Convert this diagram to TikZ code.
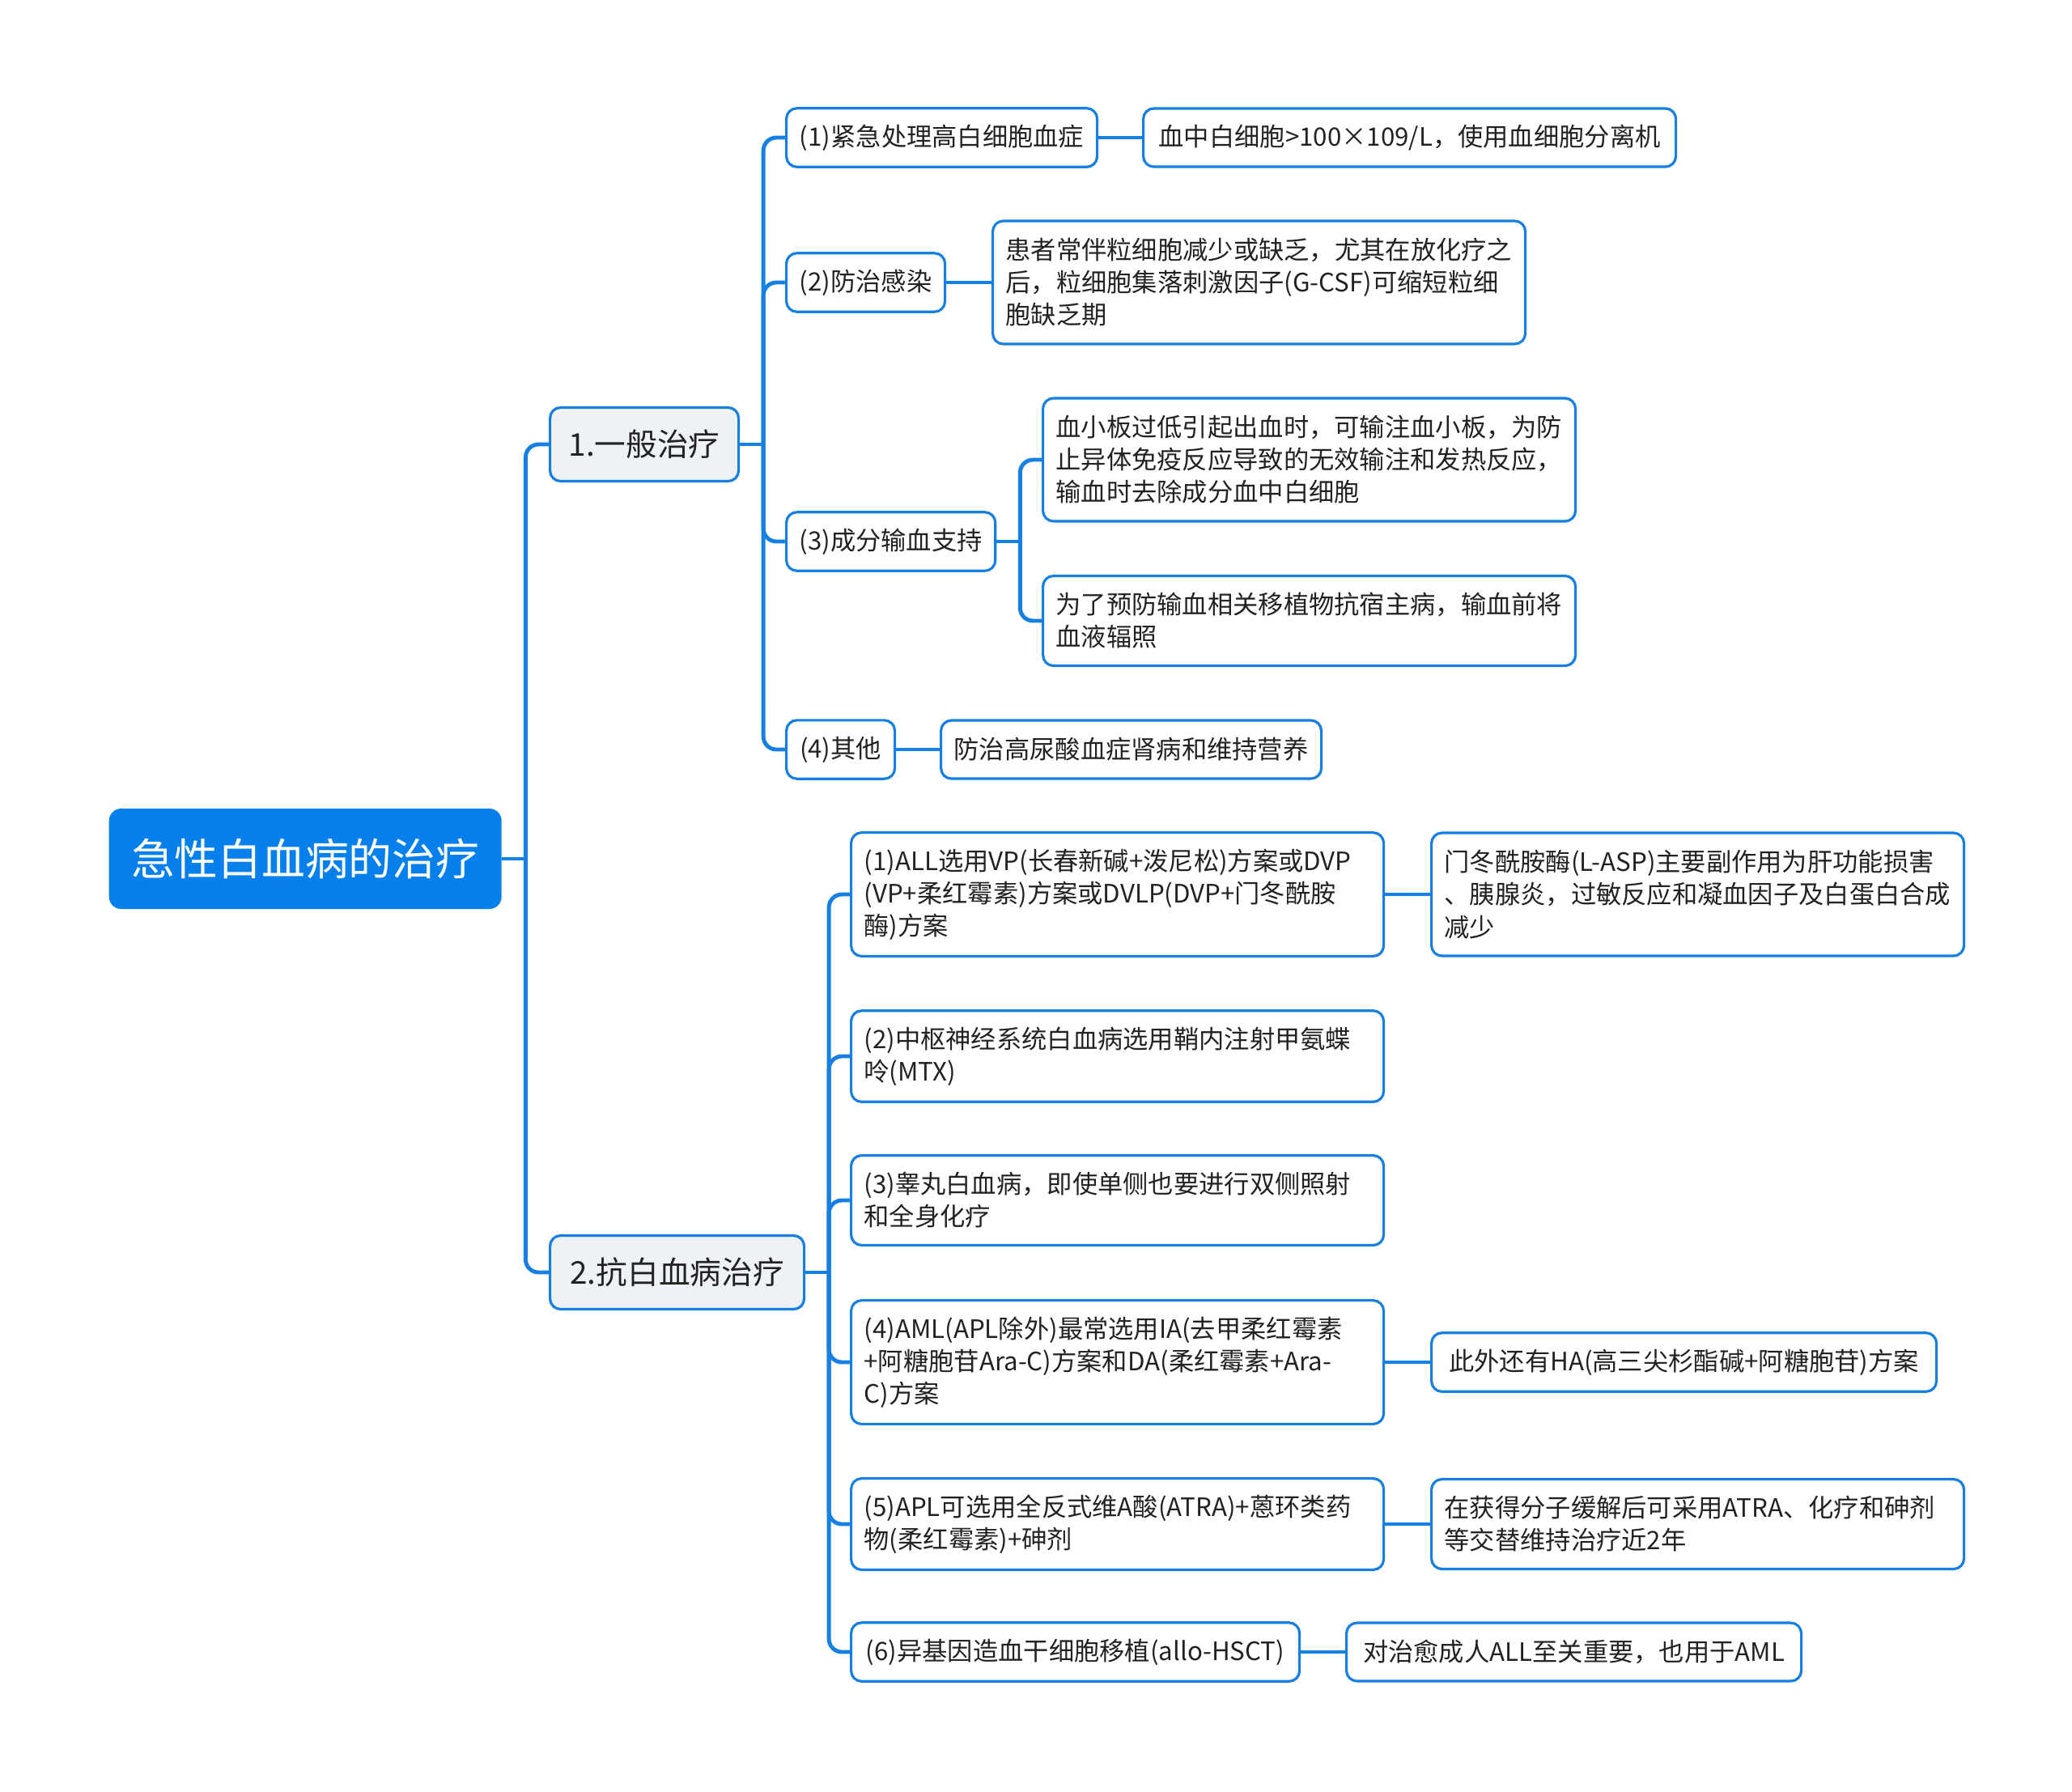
\documentclass[tikz,border=0pt]{standalone}
\usepackage{fontspec}
\setmainfont{Noto Sans CJK SC}
\definecolor{linkblue}{RGB}{22,128,226}
\definecolor{rootblue}{RGB}{8,128,236}
\definecolor{topicgray}{RGB}{238,242,246}
\definecolor{textdark}{RGB}{34,34,34}

\begin{document}
\begin{tikzpicture}[
		leaf/.style={draw=linkblue, line width=0.9pt, fill=white, rounded corners=0.13cm, anchor=west, align=left, inner xsep=0.16cm, inner ysep=0.2cm, minimum height=0.72cm, text=textdark, font=\fontsize{8.9}{11.4}\selectfont},
		wide/.style={leaf, text width=6.26cm},
		two/.style={minimum height=1.11cm},
		three/.style={minimum height=1.52cm},
		topic/.style={leaf, fill=topicgray, minimum height=0.91cm, font=\fontsize{11}{13}\selectfont},
		root/.style={fill=rootblue, rounded corners=0.15cm, anchor=west, minimum width=4.85cm, minimum height=1.24cm, text=white, font=\fontsize{15.3}{18}\selectfont},
		link/.style={draw=linkblue, line width=1.4pt, rounded corners=0.16cm}]
		\useasboundingbox (0,0) rectangle (25.6,-22.13);

		\node[root] at (1.34,-10.61) (root) {急性白血病的治疗};
		\node[topic, minimum width=2.33cm] at (6.78,-5.49) (general) {1.一般治疗};
		\node[topic, minimum width=3.14cm] at (6.78,-15.72) (anti) {2.抗白血病治疗};

		% general treatment
		\node[leaf, minimum width=3.84cm] at (9.70,-1.70) (urgent) {(1)紧急处理高白细胞血症};
		\node[leaf, minimum width=6.58cm] at (14.11,-1.70) (urgentnote) {血中白细胞>100×109/L，使用血细胞分离机};
		\node[leaf, minimum width=1.96cm] at (9.70,-3.49) (infect) {(2)防治感染};
		\node[wide, three] at (12.25,-3.49) (infectnote) {患者常伴粒细胞减少或缺乏，尤其在放化疗之\\后，粒细胞集落刺激因子(G-CSF)可缩短粒细\\胞缺乏期};
		\node[leaf, minimum width=2.58cm] at (9.70,-6.69) (transfuse) {(3)成分输血支持};
		\node[wide, three] at (12.87,-5.68) (platelet) {血小板过低引起出血时，可输注血小板，为防\\止异体免疫反应导致的无效输注和发热反应，\\输血时去除成分血中白细胞};
		\node[wide, two] at (12.87,-7.67) (irradiate) {为了预防输血相关移植物抗宿主病，输血前将\\血液辐照};
		\node[leaf, minimum width=1.34cm] at (9.70,-9.26) (other) {(4)其他};
		\node[leaf, minimum width=4.70cm] at (11.61,-9.26) (othernote) {防治高尿酸血症肾病和维持营养};

		% anti-leukemia treatment
		\node[wide, three] at (10.50,-11.05) (all) {(1)ALL选用VP(长春新碱+泼尼松)方案或DVP\\(VP+柔红霉素)方案或DVLP(DVP+门冬酰胺\\酶)方案};
		\node[wide, three] at (17.67,-11.05) (allnote) {门冬酰胺酶(L-ASP)主要副作用为肝功能损害\\、胰腺炎，过敏反应和凝血因子及白蛋白合成\\减少};
		\node[wide, two] at (10.50,-13.05) (cns) {(2)中枢神经系统白血病选用鞘内注射甲氨蝶\\呤(MTX)};
		\node[wide, two] at (10.50,-14.83) (testis) {(3)睾丸白血病，即使单侧也要进行双侧照射\\和全身化疗};
		\node[wide, three] at (10.50,-16.83) (aml) {(4)AML(APL除外)最常选用IA(去甲柔红霉素\\+阿糖胞苷Ara-C)方案和DA(柔红霉素+Ara-\\C)方案};
		\node[leaf, minimum width=6.24cm] at (17.67,-16.83) (amlnote) {此外还有HA(高三尖杉酯碱+阿糖胞苷)方案};
		\node[wide, two] at (10.50,-18.83) (apl) {(5)APL可选用全反式维A酸(ATRA)+蒽环类药\\物(柔红霉素)+砷剂};
		\node[wide, two] at (17.67,-18.83) (aplnote) {在获得分子缓解后可采用ATRA、化疗和砷剂\\等交替维持治疗近2年};
		\node[leaf, minimum width=5.54cm] at (10.50,-20.41) (hsct) {(6)异基因造血干细胞移植(allo-HSCT)};
		\node[leaf, minimum width=5.62cm] at (16.62,-20.41) (hsctnote) {对治愈成人ALL至关重要，也用于AML};

		\coordinate (rootj) at ([xshift=0.29cm]root.east);
		\coordinate (generalj) at ([xshift=0.29cm]general.east);
		\coordinate (antij) at ([xshift=0.29cm]anti.east);
		\coordinate (transfusej) at ([xshift=0.29cm]transfuse.east);

		\draw[link] (root.east) -- (rootj);
		\draw[link] (rootj) |- (general.west);
		\draw[link] (rootj) |- (anti.west);

		\draw[link] (general.east) -- (generalj);
		\draw[link] (generalj) |- (urgent.west);
		\draw[link] (generalj) |- (infect.west);
		\draw[link] (generalj) |- (transfuse.west);
		\draw[link] (generalj) |- (other.west);
		\draw[link] (urgent) -- (urgentnote);
		\draw[link] (infect) -- (infectnote);
		\draw[link] (transfuse.east) -- (transfusej);
		\draw[link] (transfusej) |- (platelet.west);
		\draw[link] (transfusej) |- (irradiate.west);
		\draw[link] (other) -- (othernote);

		\draw[link] (anti.east) -- (antij);
		\draw[link] (antij) |- (all.west);
		\draw[link] (antij) |- (cns.west);
		\draw[link] (antij) |- (testis.west);
		\draw[link] (antij) |- (aml.west);
		\draw[link] (antij) |- (apl.west);
		\draw[link] (antij) |- (hsct.west);
		\draw[link] (all) -- (allnote);
		\draw[link] (aml) -- (amlnote);
		\draw[link] (apl) -- (aplnote);
		\draw[link] (hsct) -- (hsctnote);
	\end{tikzpicture}
\end{document}
